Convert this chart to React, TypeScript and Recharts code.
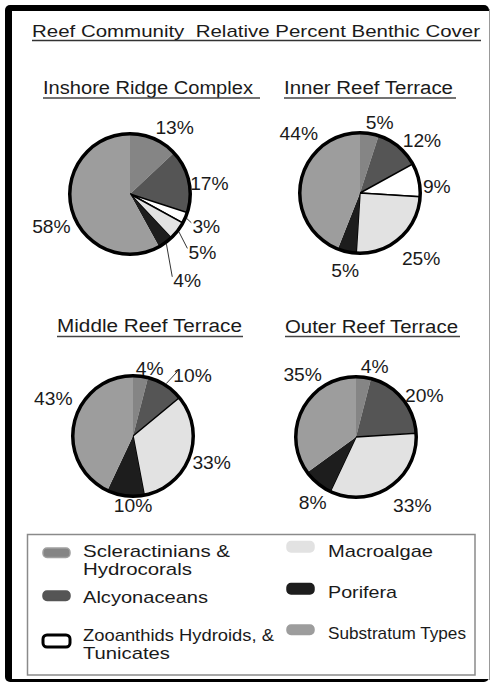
import React from 'react';
import { PieChart, Pie, Cell } from 'recharts';

const categories = [
  'Scleractinians & Hydrocorals',
  'Alcyonaceans',
  'Zooanthids Hydroids, & Tunicates',
  'Macroalgae',
  'Porifera',
  'Substratum Types',
];

// percent cover per site, same order as categories
const inshoreRidge = [13, 17, 3, 5, 4, 58];
const innerReef = [5, 12, 9, 25, 5, 44];
const middleReef = [4, 10, 0, 33, 10, 43];
const outerReef = [4, 20, 0, 33, 8, 35];

const FONT = '"Liberation Sans", Arial, Helvetica, sans-serif';
const fills = ['#858585', '#555555', '#ffffff', '#e2e2e2', '#1d1d1d', '#9d9d9d'];
const strokes = ['none', 'none', '#000', '#000', 'none', 'none'];
const R = 62;
const RAD = Math.PI / 180;

type Panel = {
  title: string;
  values: number[];
  cx: number;
  cy: number;
  place: number[][]; // [angle nudge, distance beyond rim] per label
  leaders: number[];
};

const panels: Panel[] = [
  {
    title: 'Inshore Ridge Complex', values: inshoreRidge, cx: 130, cy: 194,
    place: [[-10.5, 20], [-5.5, 20], [0.2, 23], [-1.1, 33], [-2.6, 44], [8, 25]],
    leaders: [2, 3, 4],
  },
  {
    title: 'Inner Reef Terrace', values: innerReef, cx: 360, cy: 193,
    place: [[-6.7, 13], [-10.3, 21], [-8.2, 17], [1.4, 30], [1.8, 19], [-33.2, 25]],
    leaders: [],
  },
  {
    title: 'Middle Reef Terrace', values: middleReef, cx: 133, cy: 436,
    place: [[-6.8, 9], [-12.1, 25], [0, 20], [1.2, 23], [7.2, 10], [-12.5, 28]],
    leaders: [1],
  },
  {
    title: 'Outer Reef Terrace', values: outerReef, cx: 356, cy: 437,
    place: [[-7.6, 13], [-8.3, 20], [0, 20], [5, 29], [6.3, 19], [-22.4, 22]],
    leaders: [],
  },
];

const renderLabel = (p: Panel) => (props: any) => {
  const { cx, cy, midAngle, outerRadius, index, value } = props;
  if (!value) return null;
  const [da, extra] = p.place[index];
  const ang = (midAngle + da) * RAD;
  const d = outerRadius + extra;
  const x = cx + d * Math.cos(ang);
  const y = cy - d * Math.sin(ang);
  let leader = null;
  if (p.leaders.includes(index)) {
    const m = midAngle * RAD;
    const r0 = outerRadius + 2;
    leader = (
      <line
        x1={cx + r0 * Math.cos(m)}
        y1={cy - r0 * Math.sin(m)}
        x2={x - 15}
        y2={y - 4}
        stroke="#333"
        strokeWidth={1}
      />
    );
  }
  return (
    <g key={`lbl-${index}`}>
      {leader}
      <text
        transform={`translate(${x},${y}) scale(1.1,1)`}
        textAnchor="middle"
        dy="0.35em"
        fontSize={17.5}
        fontFamily={FONT}
        fill="#1a1a1a"
      >
        {`${value}%`}
      </text>
    </g>
  );
};

// title / subtitle placements
const titleBoxes = [
  { x: 43, y: 94, w: 210, u: 217, uy: 98 },
  { x: 284, y: 94, w: 169, u: 172, uy: 98 },
  { x: 57, y: 332, w: 185, u: 186, uy: 336.5 },
  { x: 285, y: 333, w: 173, u: 175, uy: 336.5 },
];

const legendSpots = [
  { sx: 43, sy: 548, sh: 9.5, lines: ['Scleractinians &', 'Hydrocorals'], tx: 83, ty: 557, tw: [147, 109] },
  { sx: 43, sy: 591, sh: 9.5, lines: ['Alcyonaceans'], tx: 83, ty: 603, tw: [125] },
  { sx: 43, sy: 635, sh: 12, lines: ['Zooanthids Hydroids, &', 'Tunicates'], tx: 83, ty: 641, tw: [191, 87] },
  { sx: 287, sy: 541.5, sh: 10.5, lines: ['Macroalgae'], tx: 328, ty: 557, tw: [105] },
  { sx: 287, sy: 583.5, sh: 10.5, lines: ['Porifera'], tx: 328, ty: 598, tw: [69] },
  { sx: 287, sy: 625, sh: 9.5, lines: ['Substratum Types'], tx: 328, ty: 639, tw: [138] },
];

export default function App() {
  return (
    <div style={{ position: 'absolute', left: 0, top: 0, width: 492, height: 682, background: '#fff' }}>
      <svg width={492} height={682} style={{ position: 'absolute', left: 0, top: 0 }}>
        {/* frame */}
        <rect x={5} y={5} width={484} height={677} rx={5} fill="#000" />
        <rect x={12} y={11} width={477} height={668} fill="#fff" />
        <line x1={489.5} y1={9} x2={489.5} y2={680} stroke="#999" strokeWidth={1} />

        <text
          x={32}
          y={37}
          textLength={448}
          lengthAdjust="spacingAndGlyphs"
          fontSize={17}
          fontFamily={FONT}
          fill="#1a1a1a"
          style={{ whiteSpace: 'pre' }}
        >
          {'Reef Community  Relative Percent Benthic Cover'}
        </text>
        <line x1={32} x2={481} y1={40.5} y2={40.5} stroke="#333" strokeWidth={1.3} />

        {panels.map((p, i) => {
          const t = titleBoxes[i];
          return (
            <g key={p.title}>
              <text x={t.x} y={t.y} textLength={t.w} lengthAdjust="spacingAndGlyphs" fontSize={18} fontFamily={FONT} fill="#1a1a1a">
                {p.title}
              </text>
              <line x1={t.x} x2={t.x + t.u} y1={t.uy} y2={t.uy} stroke="#444" strokeWidth={1.3} />
            </g>
          );
        })}

        {/* legend */}
        <rect x={27.5} y={534.5} width={447.5} height={140.5} fill="#fff" stroke="#8a8a8a" strokeWidth={1.5} />
        {legendSpots.map((s, i) => (
          <g key={categories[i]}>
            <rect
              x={s.sx}
              y={s.sy}
              width={27}
              height={s.sh}
              rx={4}
              fill={fills[i]}
              stroke={i === 2 ? '#000' : i === 0 ? '#a0a0a0' : fills[i]}
              strokeWidth={i === 2 ? 3 : 1.5}
            />
            {s.lines.map((ln, j) => (
              <text
                key={ln}
                x={s.tx}
                y={s.ty + j * 17.5}
                textLength={s.tw[j]}
                lengthAdjust="spacingAndGlyphs"
                fontSize={17}
                fontFamily={FONT}
                fill="#1a1a1a"
              >
                {ln}
              </text>
            ))}
          </g>
        ))}
      </svg>

      <div style={{ position: 'absolute', left: 0, top: 0 }}>
        <PieChart width={492} height={682} margin={{ top: 0, right: 0, bottom: 0, left: 0 }}>
          {panels.map((p, pi) => {
            const data = p.values.map((v, i) => ({ name: categories[i], value: v }));
            const total = p.values.reduce((a, b) => a + b, 0);
            return [
              <Pie
                key={`s${pi}`}
                data={data}
                dataKey="value"
                nameKey="name"
                cx={p.cx}
                cy={p.cy}
                outerRadius={R - 2}
                startAngle={90}
                endAngle={-270}
                stroke="none"
                label={renderLabel(p)}
                labelLine={false}
                isAnimationActive={false}
              >
                {data.map((d, i) => (
                  <Cell key={d.name} fill={fills[i]} stroke={strokes[i]} strokeWidth={1.5} />
                ))}
              </Pie>,
              <Pie
                key={`r${pi}`}
                data={[{ name: 'rim', value: total }]}
                dataKey="value"
                cx={p.cx}
                cy={p.cy}
                innerRadius={R - 3.5}
                outerRadius={R}
                startAngle={90}
                endAngle={-270}
                fill="#000"
                stroke="none"
                isAnimationActive={false}
              />,
            ];
          })}
        </PieChart>
      </div>
    </div>
  );
}
